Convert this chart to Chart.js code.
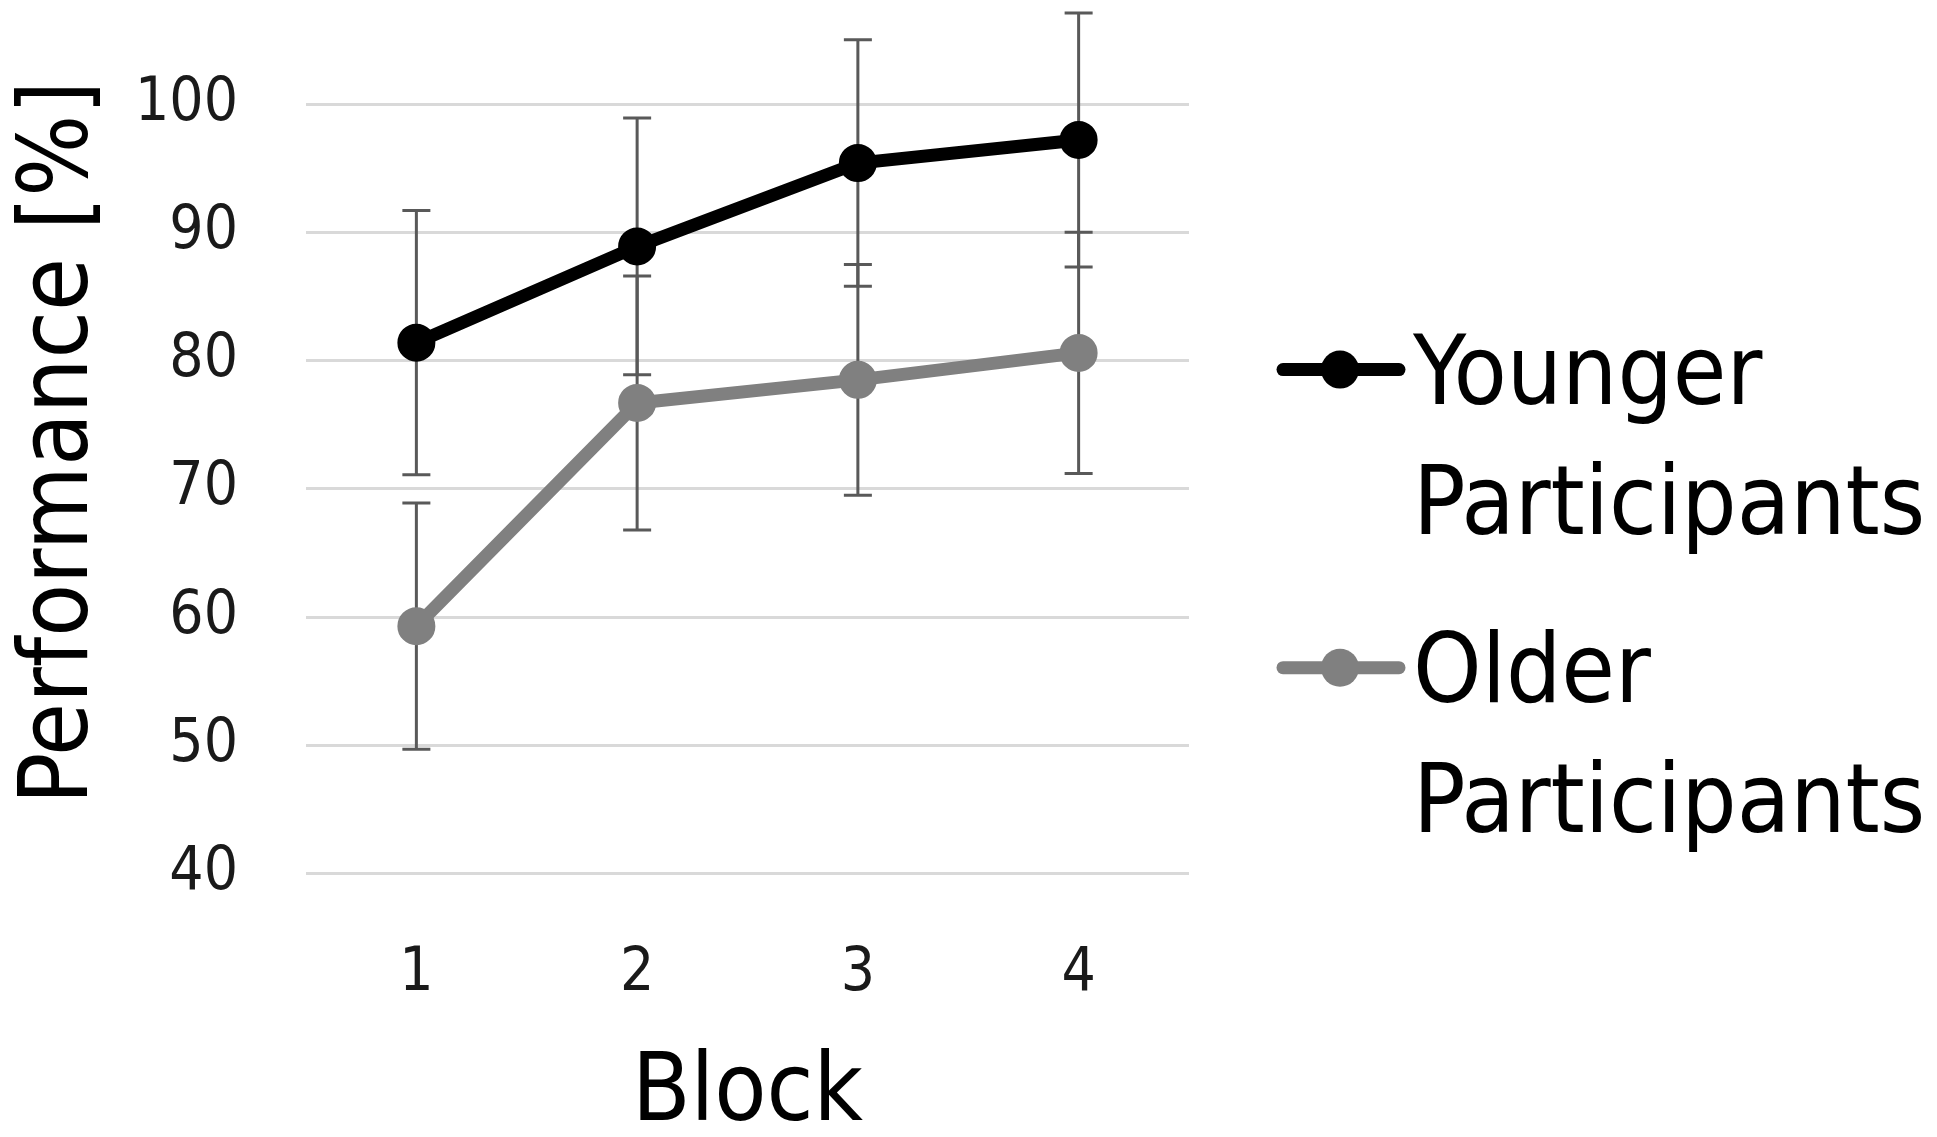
<!DOCTYPE html>
<html lang="en">
<head>
    <meta charset="UTF-8">
    <title>Performance by block</title>
    <script src="https://cdn.jsdelivr.net/npm/chart.js"></script>
    <style>
        body {
            margin: 0;
            padding: 0;
            background: #ffffff;
        }
        canvas {
            display: block;
        }
    </style>
</head>
<body>
    <canvas id="perfChart" width="1937" height="1137"></canvas>

    <script>
        // values
        const blocks = ["1", "2", "3", "4"];
        const youngerMean = [81.4, 88.9, 95.4, 97.2];
        const youngerErr = [10.3, 10.0, 9.6, 9.9];
        const olderMean = [59.3, 76.7, 78.5, 80.6];
        const olderErr = [9.6, 9.9, 9.0, 9.4];
        const yTicks = [40, 50, 60, 70, 80, 90, 100];
        const seriesNames = [["Younger", "Participants"], ["Older", "Participants"]];
        const yTitle = "Performance [%]";

        const FONT = "'DejaVu Sans Condensed', 'DejaVu Sans', sans-serif";
        const errors = [youngerErr, olderErr];

        // error bars drawn behind lines and markers
        const errorBars = {
            id: "errorBars",
            beforeDatasetsDraw(chart) {
                const ctx = chart.ctx;
                const yScale = chart.scales.y;
                ctx.save();
                ctx.strokeStyle = "#595959";
                ctx.lineWidth = 3;
                chart.data.datasets.forEach((ds, i) => {
                    const meta = chart.getDatasetMeta(i);
                    meta.data.forEach((pt, j) => {
                        const top = yScale.getPixelForValue(ds.data[j] + errors[i][j]);
                        const bot = yScale.getPixelForValue(ds.data[j] - errors[i][j]);
                        ctx.beginPath();
                        ctx.moveTo(pt.x, top);
                        ctx.lineTo(pt.x, bot);
                        ctx.moveTo(pt.x - 14, top);
                        ctx.lineTo(pt.x + 14, top);
                        ctx.moveTo(pt.x - 14, bot);
                        ctx.lineTo(pt.x + 14, bot);
                        ctx.stroke();
                    });
                });
                ctx.restore();
            }
        };

        // y title (sits a little above the axis middle) and the two-line legend
        const sideText = {
            id: "sideText",
            afterDraw(chart) {
                const ctx = chart.ctx;
                const area = chart.chartArea;
                ctx.save();

                ctx.save();
                ctx.translate(62, area.top + (area.bottom - area.top) * 0.44);
                ctx.rotate(-Math.PI / 2);
                ctx.fillStyle = "#000000";
                ctx.font = "96px " + FONT;
                ctx.textAlign = "center";
                ctx.textBaseline = "middle";
                ctx.fillText(yTitle, 0, 0);
                ctx.restore();

                const x0 = area.right;
                const rows = [369.6, 667.7];
                chart.data.datasets.forEach((ds, i) => {
                    const y = rows[i];
                    ctx.strokeStyle = ds.borderColor;
                    ctx.lineWidth = 13;
                    ctx.lineCap = "round";
                    ctx.beginPath();
                    ctx.moveTo(x0 + 94, y);
                    ctx.lineTo(x0 + 210, y);
                    ctx.stroke();
                    ctx.fillStyle = ds.backgroundColor;
                    ctx.beginPath();
                    ctx.arc(x0 + 151, y, 19, 0, Math.PI * 2);
                    ctx.fill();

                    ctx.fillStyle = "#000000";
                    ctx.font = "97px " + FONT;
                    ctx.textAlign = "left";
                    ctx.textBaseline = "alphabetic";
                    ctx.fillText(seriesNames[i][0], x0 + 224, y + 34);
                    ctx.fillText(seriesNames[i][1], x0 + 224, y + 164);
                });
                ctx.restore();
            }
        };

        const ctx = document.getElementById("perfChart").getContext("2d");
        new Chart(ctx, {
            type: "line",
            data: {
                labels: blocks,
                datasets: [
                    {
                        label: seriesNames[0].join(" "),
                        data: youngerMean,
                        borderColor: "#000000",
                        backgroundColor: "#000000",
                        borderWidth: 13,
                        pointRadius: 18,
                        pointBorderWidth: 2,
                        pointHoverRadius: 18
                    },
                    {
                        label: seriesNames[1].join(" "),
                        data: olderMean,
                        borderColor: "#808080",
                        backgroundColor: "#808080",
                        borderWidth: 13,
                        pointRadius: 18,
                        pointBorderWidth: 2,
                        pointHoverRadius: 18
                    }
                ]
            },
            options: {
                responsive: false,
                animation: false,
                layout: {
                    padding: { top: 100.4, right: 748, bottom: 0, left: 0 }
                },
                plugins: {
                    legend: { display: false },
                    tooltip: { enabled: false }
                },
                scales: {
                    x: {
                        offset: true,
                        grid: { display: false, drawTicks: false },
                        border: { display: false },
                        ticks: {
                            padding: 65,
                            color: "#1a1a1a",
                            font: { family: FONT, size: 60 }
                        },
                        title: {
                            display: true,
                            text: "Block",
                            color: "#000000",
                            font: { family: FONT, size: 95, lineHeight: 0.87 },
                            padding: 0
                        },
                        afterFit(scale) {
                            scale.height = 263.2;
                        }
                    },
                    y: {
                        min: 40,
                        max: 100,
                        afterBuildTicks(scale) {
                            scale.ticks = yTicks.map(v => ({ value: v }));
                        },
                        grid: { color: "#d9d9d9", lineWidth: 3, drawTicks: false },
                        border: { display: false },
                        ticks: {
                            padding: 68,
                            color: "#1a1a1a",
                            font: { family: FONT, size: 60 }
                        },
                        afterFit(scale) {
                            scale.width = 306;
                        }
                    }
                }
            },
            plugins: [errorBars, sideText]
        });
    </script>
</body>
</html>
